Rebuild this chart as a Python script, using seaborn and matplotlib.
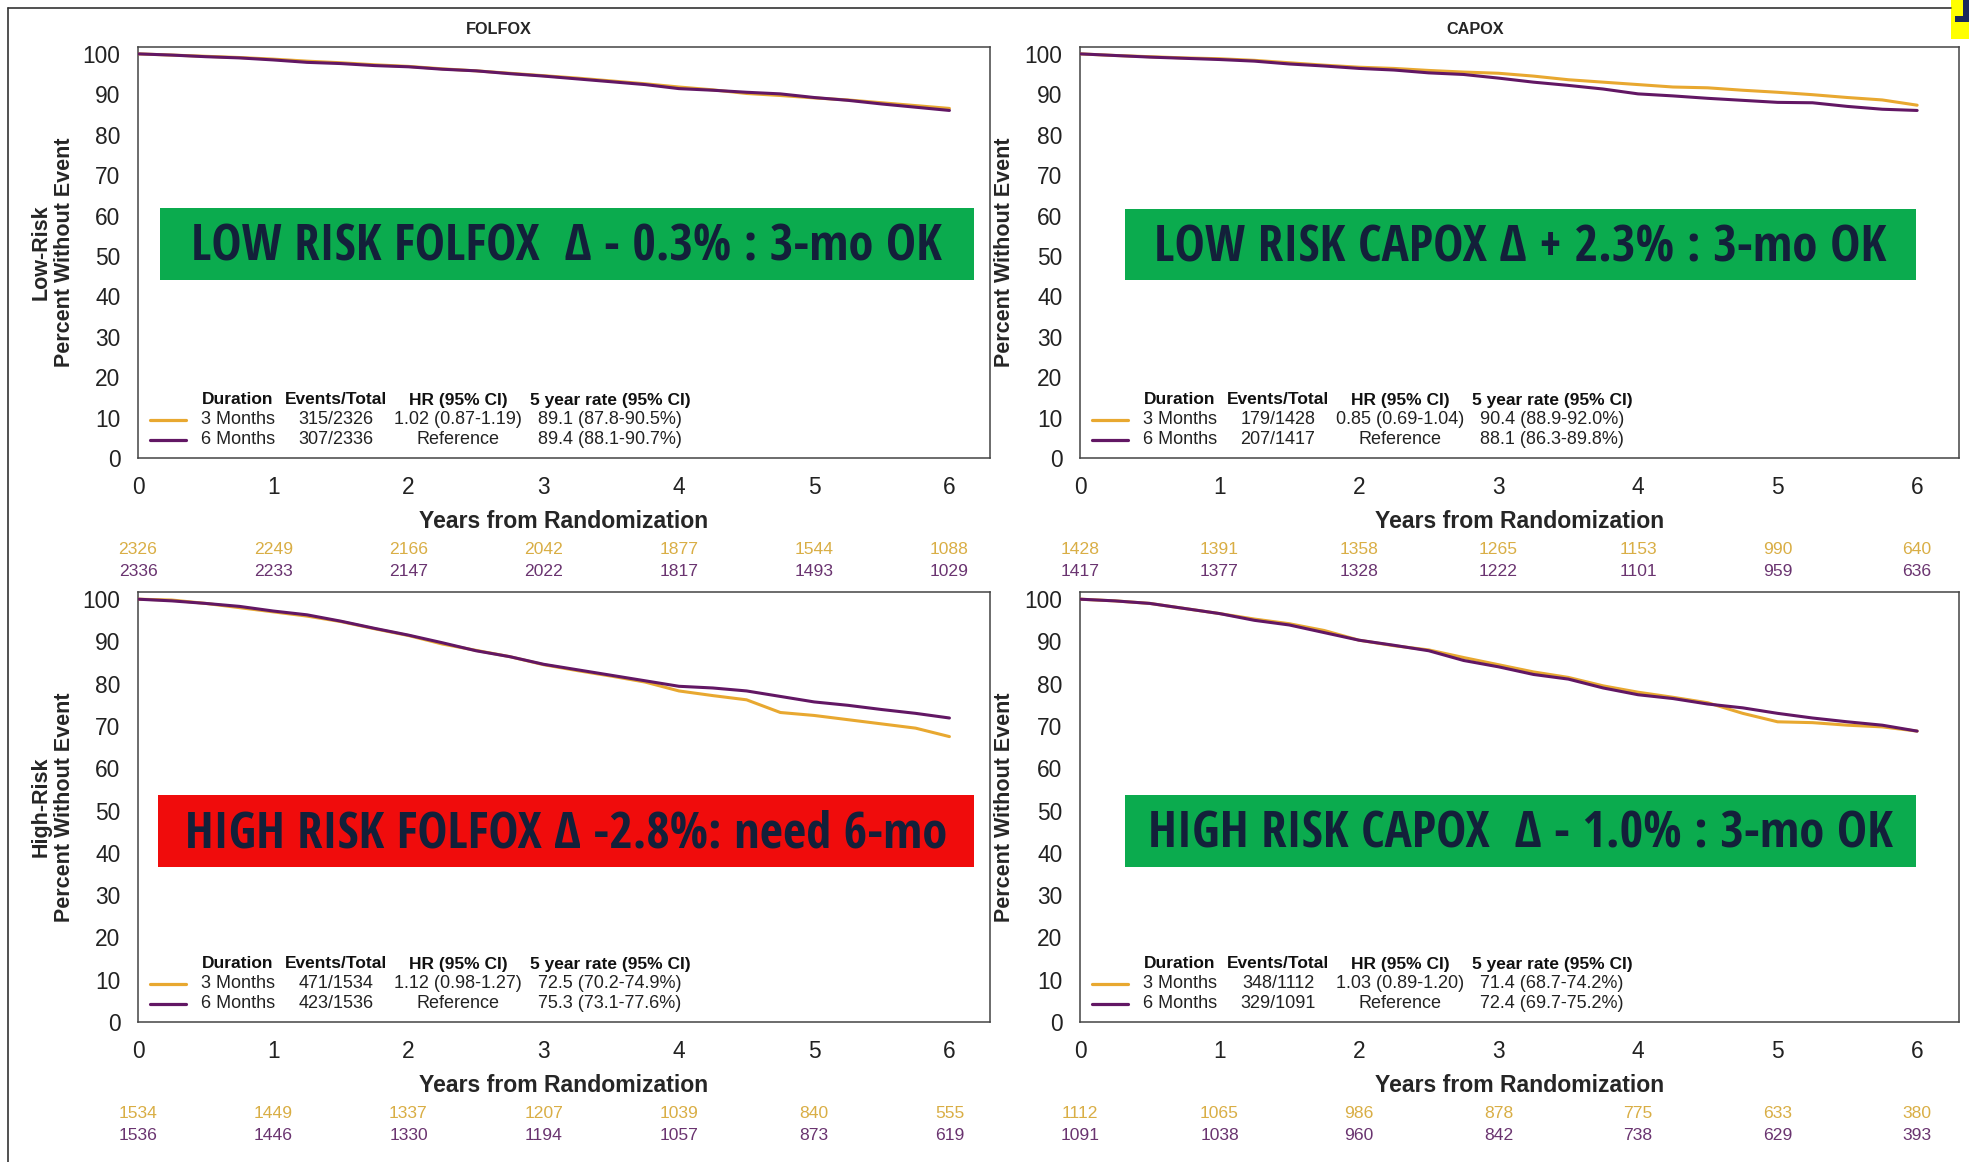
import numpy as np
import pandas as pd
import seaborn as sns
import matplotlib.pyplot as plt
from matplotlib import transforms, font_manager
from matplotlib.font_manager import FontProperties
from matplotlib.patches import Rectangle
from matplotlib.lines import Line2D

years = np.arange(0, 6.01, 0.25)

# --- survival values (percent without event) ---
folfox_low_3mo = [100, 99.7, 99.4, 99.1, 98.7, 98.2, 97.8, 97.3, 96.9, 96.3, 95.8, 95.2, 94.6,
                  94.0, 93.3, 92.6, 91.8, 91.1, 90.2, 89.7, 89.1, 88.6, 87.9, 87.2, 86.5]
folfox_low_6mo = [100, 99.7, 99.3, 99.0, 98.5, 97.9, 97.6, 97.1, 96.8, 96.2, 95.8, 95.1, 94.5,
                  93.8, 93.1, 92.4, 91.4, 91.0, 90.5, 90.1, 89.2, 88.5, 87.6, 86.8, 86.0]
capox_low_3mo = [100, 99.6, 99.3, 99.0, 98.8, 98.4, 97.8, 97.2, 96.7, 96.4, 95.9, 95.5, 95.2,
                 94.5, 93.6, 93.0, 92.4, 91.8, 91.6, 91.0, 90.5, 89.9, 89.2, 88.6, 87.3]
capox_low_6mo = [100, 99.6, 99.2, 98.9, 98.6, 98.2, 97.5, 97.0, 96.4, 96.0, 95.3, 94.9, 94.0,
                 93.0, 92.2, 91.3, 90.1, 89.6, 89.0, 88.5, 88.0, 87.9, 87.0, 86.3, 86.0]
folfox_high_3mo = [100, 99.8, 99.0, 98.0, 97.0, 96.0, 94.7, 93.0, 91.4, 89.4, 87.9, 86.4, 84.5,
                   83.1, 81.8, 80.4, 78.3, 77.2, 76.2, 73.2, 72.5, 71.5, 70.5, 69.5, 67.5]
folfox_high_6mo = [100, 99.6, 99.0, 98.3, 97.2, 96.3, 94.8, 93.1, 91.5, 89.7, 87.8, 86.4, 84.6,
                   83.3, 82.0, 80.7, 79.4, 79.0, 78.3, 77.0, 75.7, 74.9, 73.9, 73.0, 71.9]
capox_high_3mo = [100, 99.6, 99.0, 97.8, 96.6, 95.3, 94.2, 92.6, 90.3, 89.0, 88.0, 86.2, 84.5,
                  82.8, 81.5, 79.5, 78.0, 76.8, 75.5, 73.0, 71.0, 70.8, 70.2, 69.8, 68.8]
capox_high_6mo = [100, 99.6, 99.0, 97.8, 96.6, 95.0, 93.9, 92.1, 90.3, 89.1, 87.8, 85.5, 84.0,
                  82.2, 81.1, 79.0, 77.4, 76.5, 75.2, 74.3, 73.0, 71.9, 71.0, 70.2, 68.8]

# --- numbers at risk at years 0..6 ---
risk_years = [0, 1, 2, 3, 4, 5, 6]
folfox_low_risk_3mo = [2326, 2249, 2166, 2042, 1877, 1544, 1088]
folfox_low_risk_6mo = [2336, 2233, 2147, 2022, 1817, 1493, 1029]
capox_low_risk_3mo = [1428, 1391, 1358, 1265, 1153, 990, 640]
capox_low_risk_6mo = [1417, 1377, 1328, 1222, 1101, 959, 636]
folfox_high_risk_3mo = [1534, 1449, 1337, 1207, 1039, 840, 555]
folfox_high_risk_6mo = [1536, 1446, 1330, 1194, 1057, 873, 619]
capox_high_risk_3mo = [1112, 1065, 986, 878, 775, 633, 380]
capox_high_risk_6mo = [1091, 1038, 960, 842, 738, 629, 393]

# --- legend tables ---
table_header = ['Duration', 'Events/Total', 'HR (95% CI)', '5 year rate (95% CI)']
folfox_low_table = [['3 Months', '315/2326', '1.02 (0.87-1.19)', '89.1 (87.8-90.5%)'],
                    ['6 Months', '307/2336', 'Reference', '89.4 (88.1-90.7%)']]
capox_low_table = [['3 Months', '179/1428', '0.85 (0.69-1.04)', '90.4 (88.9-92.0%)'],
                   ['6 Months', '207/1417', 'Reference', '88.1 (86.3-89.8%)']]
folfox_high_table = [['3 Months', '471/1534', '1.12 (0.98-1.27)', '72.5 (70.2-74.9%)'],
                     ['6 Months', '423/1536', 'Reference', '75.3 (73.1-77.6%)']]
capox_high_table = [['3 Months', '348/1112', '1.03 (0.89-1.20)', '71.4 (68.7-74.2%)'],
                    ['6 Months', '329/1091', 'Reference', '72.4 (69.7-75.2%)']]

# --- banners ---
banner_texts = ['LOW RISK FOLFOX  \u0394 - 0.3% : 3-mo OK',
                'LOW RISK CAPOX \u0394 + 2.3% : 3-mo OK',
                'HIGH RISK FOLFOX \u0394 -2.8%: need 6-mo',
                'HIGH RISK CAPOX  \u0394 - 1.0% : 3-mo OK']
banner_colors = ['#0bab4e', '#0bab4e', '#f00c0c', '#0bab4e']
banner_text_width = [750, 730, 762, 744]   # pixel width of the banner text

arms = ['3 Months', '6 Months']
line_colors = {'3 Months': '#e8a830', '6 Months': '#621764'}
risk_colors = {'3 Months': '#d9ae45', '6 Months': '#6a3470'}

sns.set_style('white')
plt.rcParams['font.family'] = ['Liberation Sans', 'DejaVu Sans']


# pick a condensed bold face for the banners if one is installed
def pick_banner_font():
    best = None
    for f in font_manager.fontManager.ttflist:
        nm = f.name.lower()
        semi = 'semi' in nm or f.stretch == 'semi-condensed'
        narrow = semi or 'condensed' in nm or 'narrow' in nm or f.stretch == 'condensed'
        w = f.weight if isinstance(f.weight, int) else 400
        if not narrow or w < 550 or w > 720:
            continue
        if 'extra' in nm or 'ultra' in nm or f.stretch in ('extra-condensed', 'ultra-condensed'):
            continue
        rank = 0 if ('noto sans' in nm or 'open sans' in nm) else 2
        if not semi:
            rank += 1
        if w != 700:
            rank += 0.3
        if best is None or rank < best[0]:
            best = (rank, f.fname)
    if best:
        return FontProperties(fname=best[1])
    return FontProperties(family=['Liberation Sans', 'DejaVu Sans'], weight='bold')


banner_fp = pick_banner_font()

W, H = 1969, 1162
fig = plt.figure(figsize=(W / 100, H / 100), dpi=100)

panels = [
    dict(pos=(138, 47, 990, 458), s3=folfox_low_3mo, s6=folfox_low_6mo,
         r3=folfox_low_risk_3mo, r6=folfox_low_risk_6mo, table=folfox_low_table,
         ylab='Low-Risk\nPercent Without Event', banner=(0.16, 44.1, 6.18, 61.8)),
    dict(pos=(1080, 47, 1959, 458), s3=capox_low_3mo, s6=capox_low_6mo,
         r3=capox_low_risk_3mo, r6=capox_low_risk_6mo, table=capox_low_table,
         ylab='Percent Without Event', banner=(0.32, 44.1, 5.99, 61.6)),
    dict(pos=(138, 592, 990, 1022), s3=folfox_high_3mo, s6=folfox_high_6mo,
         r3=folfox_high_risk_3mo, r6=folfox_high_risk_6mo, table=folfox_high_table,
         ylab='High-Risk\nPercent Without Event', banner=(0.15, 36.7, 6.18, 53.6)),
    dict(pos=(1080, 592, 1959, 1022), s3=capox_high_3mo, s6=capox_high_6mo,
         r3=capox_high_risk_3mo, r6=capox_high_risk_6mo, table=capox_high_table,
         ylab='Percent Without Event', banner=(0.32, 36.7, 5.99, 53.6)),
]

banner_artists = []
for i, p in enumerate(panels):
    x0, y0, x1, y1 = p['pos']
    ax = fig.add_axes([x0 / W, 1 - y1 / H, (x1 - x0) / W, (y1 - y0) / H])

    df = pd.DataFrame({
        'year': np.concatenate([years, years]),
        'pct': p['s3'] + p['s6'],
        'arm': ['3 Months'] * len(years) + ['6 Months'] * len(years),
    })
    sns.lineplot(data=df, x='year', y='pct', hue='arm', hue_order=arms,
                 palette=line_colors, linewidth=2.2, legend=False, ax=ax, zorder=4)

    ax.set_xlim(0, 6.3)
    ax.set_ylim(0, 101.7)
    ax.set_xticks(range(7))
    ax.set_yticks(range(0, 101, 10))
    ax.tick_params(axis='both', direction='out', length=7.2, width=1.0,
                   color='#333333', labelsize=16.4, labelcolor='#222222', pad=5.5)
    for sp in ax.spines.values():
        sp.set_color('#444444')
        sp.set_linewidth(1.1)

    ax.set_xlabel('Years from Randomization', fontsize=16.6, fontweight='bold', labelpad=8)
    ax.set_ylabel(p['ylab'], fontsize=15.5, fontweight='bold', linespacing=1.15)
    ax.yaxis.set_label_coords(-0.074, 0.5)

    # banner
    bx0, by0, bx1, by1 = p['banner']
    ax.add_patch(Rectangle((bx0, by0), bx1 - bx0, by1 - by0, facecolor=banner_colors[i],
                           edgecolor='none', zorder=5))
    bt = ax.text((bx0 + bx1) / 2, (by0 + by1) / 2 - 0.9, banner_texts[i], ha='center',
                 va='center', fontproperties=banner_fp, fontsize=30, color='#13203a', zorder=6)
    banner_artists.append((bt, banner_text_width[i]))

    # legend table, offsets in pixels from the axes origin
    pxT = transforms.ScaledTranslation(0, 0, ax.transAxes)
    col_x = [100, 198, 320, 472]
    for c, h in enumerate(table_header):
        ax.text(col_x[c], 58, h, transform=pxT, ha='center', va='center',
                fontsize=12.5, fontweight='bold', color='#111111')
    for r, row in enumerate(p['table']):
        yy = 38 - 20 * r
        ax.add_line(Line2D([12, 48], [yy, yy], transform=pxT, color=line_colors[arms[r]],
                           linewidth=2.3))
        for c, val in enumerate(row):
            ax.text(col_x[c], yy, val, transform=pxT, ha='center', va='center',
                    fontsize=13, color='#222222')

    # numbers at risk
    for r, (arm, vals) in enumerate(zip(arms, [p['r3'], p['r6']])):
        for t, v in zip(risk_years, vals):
            ax.annotate(str(v), xy=(t, 0), xycoords=('data', 'axes fraction'),
                        xytext=(0, -91 - 22 * r), textcoords='offset pixels',
                        ha='center', va='center', fontsize=12.6, color=risk_colors[arm],
                        annotation_clip=False)

# size each banner text so it spans the same width as in the slide
fig.canvas.draw()
renderer = fig.canvas.get_renderer()
for bt, target in banner_artists:
    w = bt.get_window_extent(renderer).width
    bt.set_fontsize(30 * target / w)

# panel titles
fig.text(499 / W, 1 - 29 / H, 'FOLFOX', ha='center', va='center', fontsize=11.7, fontweight='bold')
fig.text(1475 / W, 1 - 29 / H, 'CAPOX', ha='center', va='center', fontsize=11.7, fontweight='bold')

# outer frame (top and left edges)
fig.add_artist(Line2D([8 / W, 1951 / W], [1 - 8 / H, 1 - 8 / H], transform=fig.transFigure,
                      color='#333333', linewidth=1.2))
fig.add_artist(Line2D([8 / W, 8 / W], [1 - 8 / H, 0], transform=fig.transFigure,
                      color='#333333', linewidth=1.2))

# cut-off corner tab in the top right
fig.add_artist(Rectangle((1951 / W, 1 - 39 / H), 18 / W, 39 / H, transform=fig.transFigure,
                         facecolor='#ffff00', edgecolor='none'))
fig.add_artist(Rectangle((1963 / W, 1 - 22 / H), 6 / W, 22 / H, transform=fig.transFigure,
                         facecolor='#1a2a5c', edgecolor='none'))
fig.add_artist(Rectangle((1955 / W, 1 - 22 / H), 14 / W, 6 / H, transform=fig.transFigure,
                         facecolor='#1a2a5c', edgecolor='none'))

fig.savefig('out.png', dpi=100, facecolor='white')
